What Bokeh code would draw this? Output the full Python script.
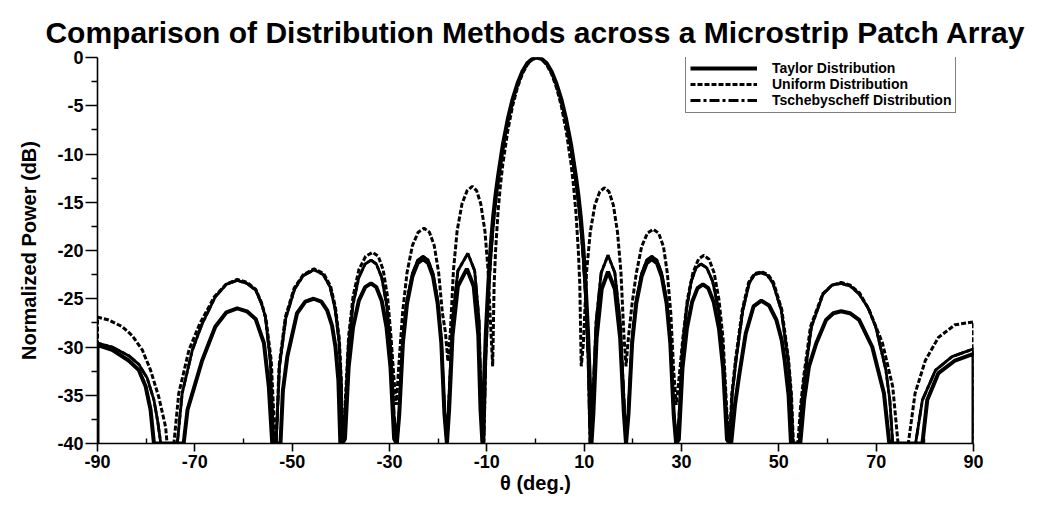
from bokeh.plotting import figure
from bokeh.models import Range1d, FixedTicker, Legend, LegendItem
from bokeh.embed import file_html
from bokeh.resources import INLINE

FONT = "Liberation Sans"

TITLE = "Comparison of Distribution Methods across a Microstrip Patch Array"
X_LABEL = "\u03b8 (deg.)"
Y_LABEL = "Normalized Power (dB)"

x_ticks = [-90, -70, -50, -30, -10, 10, 30, 50, 70, 90]
x_minor = [-80, -60, -40, -20, 0, 20, 40, 60, 80]
y_ticks = [0, -5, -10, -15, -20, -25, -30, -35, -40]
y_minor = [-2.5, -7.5, -12.5, -17.5, -22.5, -27.5, -32.5, -37.5]

series_names = ["Taylor Distribution", "Uniform Distribution", "Tschebyscheff Distribution"]

# Taylor distribution pattern (angle in degrees, normalized power in dB)
taylor_theta = [
    -90, -90, -87.0, -83.6, -81.5, -80.1, -79.1, -78.4,
    -72.3, -71.5, -70.5, -68.5, -65.8, -63.5, -61.3, -59.3, -57.5, -55.8, -54.8, -54.1,
    -52.4, -51.9, -51.0, -49.0, -47.3, -45.6, -44.0, -42.8, -41.8, -41.1, -40.5, -40.1,
    -39.7, -39.15, -38.4, -37.5, -36.3, -35.0, -33.8, -32.7, -31.6, -30.6, -29.8, -29.05, -28.5,
    -28.0, -27.25, -26.4, -25.3, -24.2, -23.1, -22.05, -21.05, -20.1, -19.35, -18.7, -18.2,
    -17.75, -17.05, -15.95, -14.1, -12.7, -11.75, -11.3, -10.9,
    -10.6, -10.2, -9.7, -9.2, -8.7, -8.2, -7.7, -6.7, -5.7, -4.7, -3.7, -2.7, -1.7, -0.7,
    0.3, 1.3, 2.3, 3.3, 4.3, 5.3, 6.3, 7.3, 8.3, 8.8, 9.3, 9.8, 10.3, 10.8, 11.2, 11.5,
    11.9, 12.55, 13.6, 14.9, 16.3, 17.4, 18.15, 18.6,
    19.1, 19.85, 20.7, 21.8, 22.85, 23.9, 24.95, 25.95, 26.95, 27.7, 28.4, 28.9,
    29.45, 30.2, 31.1, 32.2, 33.3, 34.4, 35.5, 36.6, 37.7, 38.55, 39.35, 39.9,
    40.2, 41.0, 41.8, 43.2, 44.8, 46.4, 48.0, 49.5, 50.6, 51.2, 52.0, 52.5,
    54.4, 55.2, 56.2, 57.7, 59.7, 61.2, 62.8, 64.6, 66.5, 69.2, 71.6, 72.7,
    79.5, 80.5, 82.8, 86.2, 90, 90,
]
taylor_db = [
    -40, -29.8, -30.3, -31.4, -32.4, -34.1, -36.5, -40,
    -40, -36.5, -34.8, -31.4, -27.9, -26.4, -26.0, -26.3, -27.1, -29.6, -34.1, -40,
    -40, -34.5, -31.0, -26.5, -25.3, -25.0, -25.3, -26.2, -27.8, -30.0, -33.5, -40,
    -40, -39.5, -32.1, -28.0, -25.2, -23.8, -23.4, -23.8, -25.2, -28.0, -32.1, -39.5, -40,
    -37.0, -29.6, -25.5, -22.7, -21.3, -20.9, -21.3, -22.7, -25.5, -29.6, -37.0, -40,
    -36.5, -28.8, -23.7, -21.9, -23.7, -28.8, -36.5, -40,
    -34, -28.5, -23.5, -19.5, -16.5, -14.2, -12.3, -9.0, -6.4, -4.3, -2.7, -1.45, -0.6, -0.15,
    0, -0.15, -0.6, -1.45, -2.7, -4.3, -6.4, -9.0, -12.3, -14.2, -16.5, -19.5, -23.5, -28.5, -34, -40,
    -36.8, -29.1, -24.0, -22.2, -24.0, -29.1, -36.8, -40,
    -37.0, -29.6, -25.5, -22.7, -21.3, -20.9, -21.3, -22.7, -25.5, -29.6, -37.0, -40,
    -39.6, -32.2, -28.1, -25.3, -23.9, -23.5, -23.9, -25.3, -28.1, -32.2, -39.6, -40,
    -40, -36.0, -33.1, -28.6, -25.8, -25.2, -25.7, -27.2, -29.3, -31.4, -35.0, -40,
    -40, -35.5, -32.0, -29.6, -27.2, -26.5, -26.3, -26.5, -27.2, -30.0, -34.8, -40,
    -40, -35.5, -32.7, -31.4, -30.7, -40,
]

# Uniform distribution pattern
uniform_theta = [
    -90, -90, -87.7, -84.9, -82.9, -80.8, -79.1, -77.4, -76.0, -75.7,
    -74.3, -73.3, -71.2, -69.0, -66.0, -63.6, -61.3, -59.3, -57.5, -56.3, -55.4, -54.3, -53.5,
    -53.3, -52.7, -51.4, -49.6, -47.7, -45.5, -43.5, -42.1, -41.1, -40.3, -39.9, -39.7,
    -39.15, -38.4, -37.5, -36.3, -34.9, -33.5, -32.3, -31.3, -30.4, -29.7, -29.05, -28.6,
    -28.1, -27.3, -26.4, -25.3, -24.1, -22.9, -21.8, -20.8, -19.9, -19.15, -18.5, -18.0,
    -17.5, -16.85, -16.1, -15.1, -14.05, -13.0, -12.1, -11.25, -10.4, -9.75, -9.2, -8.8,
    -8.5, -8.2, -7.7, -7.2, -6.7, -5.7, -4.7, -3.7, -2.7, -1.7, -0.7,
    0.3, 1.3, 2.3, 3.3, 4.3, 5.3, 6.3, 7.3, 7.8, 8.3, 8.8, 9.1, 9.4,
    9.85, 10.5, 11.25, 12.2, 13.2, 14.2, 15.1, 16.0, 16.85, 17.55, 18.15, 18.6,
    19.1, 19.85, 20.7, 21.8, 23.0, 24.2, 25.3, 26.3, 27.1, 27.8, 28.4, 28.9,
    29.45, 30.25, 31.2, 32.35, 33.5, 34.6, 35.65, 36.7, 37.7, 38.55, 39.3, 39.9,
    40.3, 41.1, 42.5, 43.8, 45.0, 46.4, 47.8, 48.9, 50.6, 52.0, 52.6, 53.0,
    53.9, 54.5, 55.1, 56.5, 59.0, 60.9, 62.8, 64.7, 66.6, 68.6, 71.3, 73.4, 74.5,
    76.6, 78.0, 80.1, 82.8, 86.2, 90, 90,
]
uniform_db = [
    -40, -26.9, -27.2, -27.9, -28.8, -30.3, -32.4, -35.2, -38.3, -40,
    -40, -34.8, -30.3, -27.6, -24.8, -23.5, -23.0, -23.3, -24.0, -25.4, -27.0, -31.4, -40,
    -40, -32.0, -26.9, -23.9, -22.5, -21.9, -22.4, -23.7, -25.9, -29.2, -33.5, -40,
    -36.3, -28.9, -24.8, -22.0, -20.6, -20.2, -20.6, -22.0, -24.8, -28.9, -33.5, -36,
    -32, -26.4, -22.3, -19.5, -18.1, -17.7, -18.1, -19.5, -22.3, -26.4, -28.5, -31.5,
    -28.5, -22.0, -17.95, -15.15, -13.8, -13.35, -13.8, -15.15, -17.95, -22.0, -28.0, -32,
    -23.5, -20.0, -16.0, -13.2, -11.0, -7.6, -5.0, -3.1, -1.7, -0.75, -0.2,
    0, -0.2, -0.75, -1.7, -3.1, -5.0, -7.6, -11.0, -13.2, -16.0, -20.0, -23.5, -32,
    -29.6, -22.2, -18.1, -15.3, -13.9, -13.5, -13.9, -15.3, -18.1, -22.2, -28.6, -32,
    -29.0, -25.5, -22.4, -19.6, -18.2, -17.8, -18.2, -19.6, -22.4, -26.5, -32.5, -36,
    -33.5, -29.2, -25.1, -22.3, -20.9, -20.5, -20.9, -22.3, -25.1, -29.2, -36.6, -40,
    -35.0, -31.3, -26.1, -23.3, -22.4, -22.2, -22.5, -23.3, -26.1, -31.3, -35.0, -40,
    -40, -36.0, -33.1, -27.9, -24.5, -23.6, -23.3, -23.6, -24.4, -26.2, -29.6, -34.1, -40,
    -40, -34.8, -31.4, -29.0, -27.7, -27.4, -40,
]

# Tschebyscheff distribution pattern
tscheb_theta = [
    -90, -90, -87.0, -83.6, -81.5, -79.8, -78.4, -77.6, -77.0,
    -73.6, -72.6, -70.5, -68.5, -65.8, -63.5, -61.3, -59.3, -57.5, -56.3, -55.5, -54.5, -53.8,
    -53.3, -52.6, -51.3, -49.5, -47.7, -45.5, -43.6, -42.2, -41.2, -40.4, -39.95, -39.7,
    -39.15, -38.4, -37.5, -36.3, -35.0, -33.8, -32.7, -31.6, -30.6, -29.8, -29.05, -28.5,
    -28.0, -27.25, -26.4, -25.3, -24.2, -23.1, -22.05, -21.05, -20.1, -19.35, -18.7, -18.2,
    -17.75, -17.05, -15.95, -13.9, -12.5, -11.6, -11.2, -10.9,
    -10.6, -10.2, -9.7, -9.2, -8.7, -8.2, -7.7, -6.7, -5.7, -4.7, -3.7, -2.7, -1.7, -0.7,
    0.3, 1.3, 2.3, 3.3, 4.3, 5.3, 6.3, 7.3, 8.3, 8.8, 9.3, 9.8, 10.3, 10.8, 11.2,
    11.4, 11.8, 12.45, 13.5, 14.9, 16.3, 17.4, 18.15, 18.6,
    19.1, 19.85, 20.7, 21.8, 22.85, 23.9, 24.95, 25.95, 26.95, 27.7, 28.4, 28.9,
    29.45, 30.2, 31.05, 32.0, 33.0, 34.0, 35.2, 36.4, 37.55, 38.45, 39.3, 39.9,
    40.4, 41.2, 42.6, 43.9, 45.0, 46.4, 47.7, 48.8, 50.5, 51.9, 52.5, 52.9,
    54.2, 54.7, 55.3, 56.7, 59.1, 60.9, 62.8, 64.7, 66.5, 68.3, 69.9, 72.0, 72.8, 73.4,
    78.1, 79.5, 82.2, 85.6, 90, 90,
]
tscheb_db = [
    -40, -29.6, -30.0, -30.9, -31.8, -33.2, -35.5, -37.8, -40,
    -40, -34.8, -30.3, -27.6, -24.8, -23.5, -23.1, -23.4, -24.1, -25.5, -26.9, -31.4, -40,
    -40, -32.0, -27.0, -24.0, -22.6, -22.0, -22.5, -23.8, -26.0, -29.3, -33.5, -40,
    -37.1, -29.7, -25.6, -22.8, -21.4, -21.0, -21.4, -22.8, -25.6, -29.7, -37.1, -40,
    -36.7, -29.3, -25.2, -22.4, -21.0, -20.6, -21.0, -22.4, -25.2, -29.3, -36.7, -40,
    -34.9, -27.2, -22.1, -20.3, -22.1, -27.2, -34.9, -40,
    -40, -31, -25, -20.8, -17.5, -15.0, -13.0, -9.5, -6.7, -4.5, -2.8, -1.5, -0.65, -0.15,
    0, -0.15, -0.65, -1.5, -2.8, -4.5, -6.7, -9.5, -13.0, -15.0, -17.5, -20.8, -25, -31, -40,
    -40, -35.1, -27.4, -22.3, -20.5, -22.3, -27.4, -35.1, -40,
    -36.7, -29.3, -25.2, -22.4, -21.0, -20.6, -21.0, -22.4, -25.2, -29.3, -36.7, -40,
    -37.5, -30.1, -26.0, -23.2, -21.8, -21.4, -21.8, -23.2, -26.0, -30.1, -37.5, -40,
    -35.0, -31.4, -26.2, -23.4, -22.5, -22.3, -22.6, -23.4, -26.2, -31.4, -35.0, -40,
    -40, -36.0, -33.1, -27.9, -24.5, -23.6, -23.4, -23.7, -24.5, -25.9, -27.9, -32.4, -35.5, -40,
    -40, -35.5, -32.4, -31.0, -30.2, -40,
]

p = figure(
    width=1044, height=505,
    x_range=Range1d(-90, 90), y_range=Range1d(-40, 0),
    output_backend="svg", toolbar_location=None,
    min_border_left=97, min_border_right=71,
    min_border_top=57, min_border_bottom=62,
    background_fill_color="white", border_fill_color="white",
)
p.outline_line_color = None
p.grid.visible = False

p.title.text = TITLE
p.title.align = "center"
p.title.text_font = FONT
p.title.text_font_size = "30px"
p.title.text_font_style = "bold"
p.title.text_color = "black"
p.title.standoff = 18

# Tschebyscheff curve: a solid trace in the plot, with a dash-dot copy on top
# that also serves as its legend sample
r_tscheb_solid = p.line(tscheb_theta, tscheb_db, line_color="black", line_width=2.8)
r_taylor = p.line(taylor_theta, taylor_db, line_color="black", line_width=4)
r_uniform = p.line(uniform_theta, uniform_db, line_color="black", line_width=3,
                   line_dash="5 2")
r_tscheb = p.line(tscheb_theta, tscheb_db, line_color="black", line_width=2.8,
                  line_dash="10 3 3 3")

for ax in (p.xaxis[0], p.yaxis[0]):
    ax.axis_line_width = 1.6
    ax.axis_line_color = "black"
    ax.major_tick_line_width = 1.6
    ax.minor_tick_line_width = 1.4
    ax.major_tick_line_color = "black"
    ax.minor_tick_line_color = "black"
    ax.major_label_text_font = FONT
    ax.major_label_text_font_style = "bold"
    ax.major_label_text_font_size = "18px"
    ax.major_label_text_color = "black"
    ax.axis_label_text_font = FONT
    ax.axis_label_text_font_style = "bold"
    ax.axis_label_text_color = "black"

xa = p.xaxis[0]
xa.ticker = FixedTicker(ticks=x_ticks, minor_ticks=x_minor)
xa.major_label_overrides = {t: str(t) for t in x_ticks}
xa.major_tick_out = 8
xa.major_tick_in = 0
xa.minor_tick_in = 5
xa.minor_tick_out = 0
xa.major_label_standoff = 3
xa.axis_label = X_LABEL
xa.axis_label_text_font_size = "20px"
xa.axis_label_standoff = 1

ya = p.yaxis[0]
ya.ticker = FixedTicker(ticks=y_ticks, minor_ticks=y_minor)
ya.major_label_overrides = {t: str(t) for t in y_ticks}
ya.major_tick_out = 12
ya.major_tick_in = 0
ya.minor_tick_out = 6
ya.minor_tick_in = 0
ya.major_label_standoff = 2
ya.axis_label = Y_LABEL
ya.axis_label_text_font_size = "20px"
ya.axis_label_standoff = 14

legend = Legend(
    items=[
        LegendItem(label=series_names[0], renderers=[r_taylor]),
        LegendItem(label=series_names[1], renderers=[r_uniform]),
        LegendItem(label=series_names[2], renderers=[r_tscheb]),
    ],
    location=(588, 330),
    orientation="vertical",
)
legend.label_text_font = FONT
legend.label_text_font_style = "bold"
legend.label_text_font_size = "14px"
legend.label_text_color = "black"
legend.label_height = 13
legend.glyph_height = 12
legend.glyph_width = 67
legend.label_standoff = 15
legend.spacing = 0
legend.padding = 4
legend.margin = 0
legend.border_line_color = "black"
legend.border_line_width = 1.5
legend.background_fill_color = "white"
legend.background_fill_alpha = 1.0
p.add_layout(legend)

open("out.html", "w").write(file_html(p, INLINE))
